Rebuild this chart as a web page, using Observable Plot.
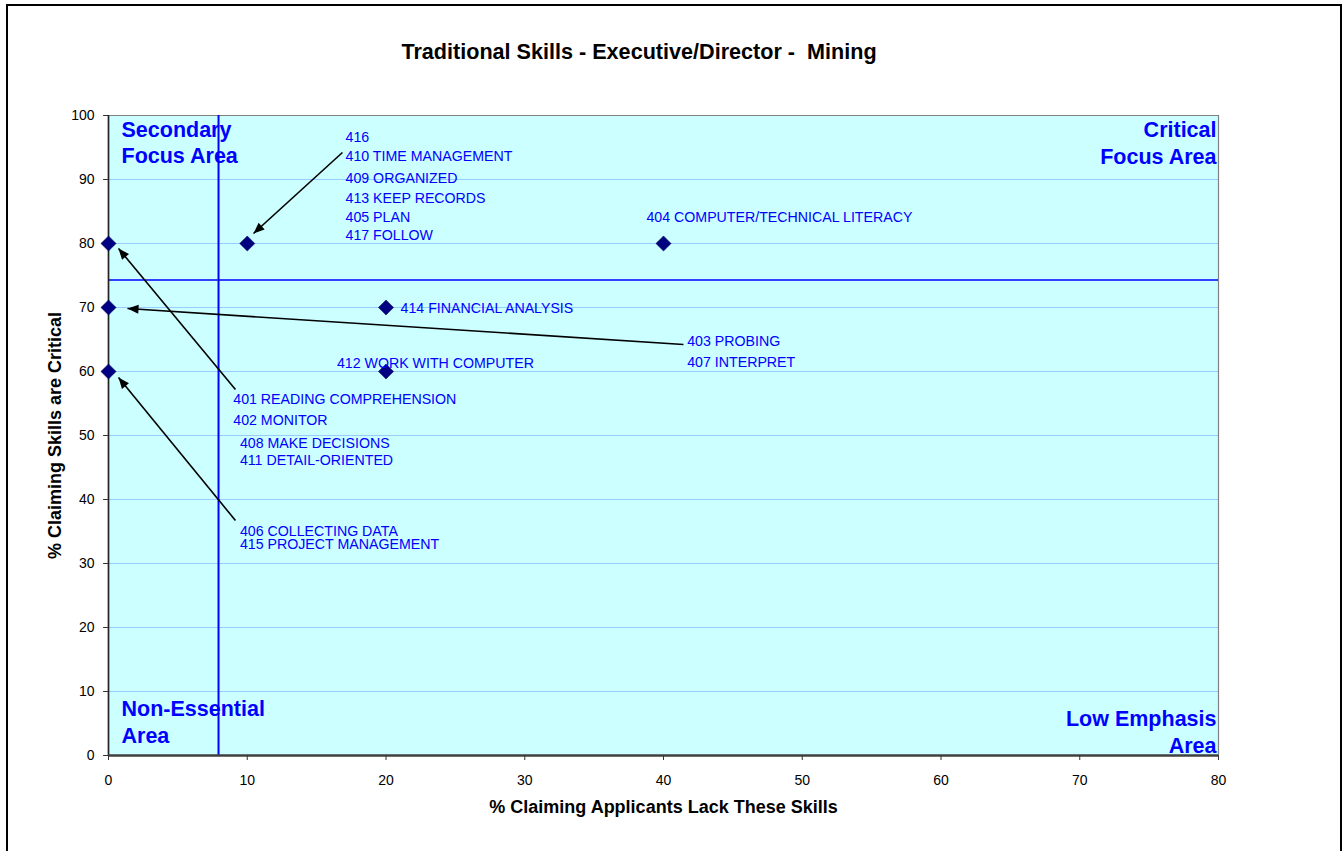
<!DOCTYPE html>
<html><head><meta charset="utf-8">
<script src="https://cdn.jsdelivr.net/npm/d3@7"></script>
<script src="https://cdn.jsdelivr.net/npm/@observablehq/plot@0.6"></script>
<style>
body{margin:0;background:#fff;font-family:Arial,"Liberation Sans",sans-serif;}
#wrap{position:relative;width:1343px;height:851px;overflow:hidden;}
#border{position:absolute;left:6px;top:4px;width:1336px;height:900px;border:2px solid #000;pointer-events:none;box-sizing:border-box;}
</style></head><body>
<div id="wrap"><div id="chart"></div><div id="border"></div></div>
<script>
// ---- data ----
const title = "Traditional Skills - Executive/Director -  Mining";
const xTitle = "% Claiming Applicants Lack These Skills";
const yTitle = "% Claiming Skills are Critical";
const xTicks = [0, 10, 20, 30, 40, 50, 60, 70, 80];
const yTicks = [0, 10, 20, 30, 40, 50, 60, 70, 80, 90, 100];
const gridValues = [10, 20, 30, 40, 50, 60, 70, 80, 90];

const pointX = [10, 40, 20, 20, 0, 0, 0];
const pointY = [80, 80, 70, 60, 80, 70, 60];

const labelText = ["416", "410 TIME MANAGEMENT", "409 ORGANIZED", "413 KEEP RECORDS", "405 PLAN", "417 FOLLOW",
  "404 COMPUTER/TECHNICAL LITERACY", "414 FINANCIAL ANALYSIS", "412 WORK WITH COMPUTER",
  "401 READING COMPREHENSION", "402 MONITOR", "408 MAKE DECISIONS", "411 DETAIL-ORIENTED",
  "403 PROBING", "407 INTERPRET", "406 COLLECTING DATA", "415 PROJECT MANAGEMENT"];
const labelX = [17.08, 17.08, 17.08, 17.08, 17.08, 17.08, 38.77, 21.05, 16.46, 8.99, 8.99, 9.47, 9.47, 41.71, 41.71, 9.47, 9.47];
const labelY = [96.56, 93.59, 90.11, 86.98, 84.02, 81.25, 84.06, 69.8, 61.2, 55.58, 52.34, 48.8, 46.09, 64.69, 61.36, 35.0, 32.92];

// arrows: tail (x1,y1) -> head (x2,y2)
const arrowX1 = [16.86, 9.15, 41.44, 9.15];
const arrowY1 = [94.22, 57.19, 64.22, 36.72];
const arrowX2 = [10.45, 0.72, 1.37, 0.72];
const arrowY2 = [81.56, 79.22, 69.84, 59.06];

const lackThreshold = 7.93;
const criticalThreshold = 74.3;

const quadrantText = ["Secondary\nFocus Area", "Critical\nFocus Area", "Non-Essential\nArea", "Low Emphasis\nArea"];

// ---- build ----
const points = pointX.map((x, i) => ({x, y: pointY[i]}));
const labels = labelText.map((t, i) => ({t, x: labelX[i], y: labelY[i]}));
const arrows = arrowX1.map((x1, i) => ({x1, y1: arrowY1[i], x2: arrowX2[i], y2: arrowY2[i]}));

function filledArrow(color, context) {
  const m = d3.create("svg:marker")
    .attr("viewBox", "-12 -6 12 12")
    .attr("markerWidth", 12).attr("markerHeight", 12)
    .attr("markerUnits", "userSpaceOnUse")
    .attr("orient", "auto")
    .attr("refX", 0).attr("refY", 0)
    .attr("fill", "#000").attr("stroke", "none");
  m.append("path").attr("d", "M-11,-4.5L0,0L-11,4.5Z");
  return m.node();
}

const blue = "#0000FF";
const qFont = 21.5;
const chart = Plot.plot({
  width: 1343, height: 851,
  marginLeft: 108, marginRight: 125, marginTop: 115, marginBottom: 96,
  style: {fontFamily: "Arial, 'Liberation Sans', sans-serif", fontSize: "14px", color: "#000", background: "transparent"},
  x: {domain: [0, 80]},
  y: {domain: [0, 100]},
  marks: [
    Plot.frame({fill: "#CCFFFF", stroke: null}),
    Plot.gridY(gridValues, {stroke: "#99CCFF", strokeOpacity: 1}),
    Plot.ruleY([100], {stroke: "#808080", strokeWidth: 1.2}),
    Plot.ruleX([80], {stroke: "#808080", strokeWidth: 1.2}),
    Plot.ruleX([lackThreshold], {stroke: blue, strokeWidth: 2}),
    Plot.ruleY([criticalThreshold], {stroke: blue, strokeWidth: 1.6}),
    Plot.ruleX([0], {stroke: "#222", strokeWidth: 1.7}),
    Plot.ruleY([0], {stroke: "#404040", strokeWidth: 2.3}),
    Plot.axisX({ticks: xTicks, tickSize: 5, tickPadding: 15, label: null, fontSize: 14, stroke: "#333"}),
    Plot.axisY({ticks: yTicks, tickSize: 5, tickPadding: 9, label: null, fontSize: 14, stroke: "#333"}),
    Plot.link(arrows, {x1: "x1", y1: "y1", x2: "x2", y2: "y2", stroke: "#000", strokeWidth: 1.6, markerEnd: filledArrow}),
    Plot.dot(points, {x: "x", y: "y", symbol: "diamond2", r: 6.8, fill: "#000080", stroke: "#000050", strokeWidth: 0.5}),
    Plot.text(labels, {x: "x", y: "y", text: "t", textAnchor: "start", fill: blue, fontSize: 14.2}),
    Plot.text([quadrantText[0]], {frameAnchor: "top-left", textAnchor: "start", lineAnchor: "top", dx: 13, dy: 3, lineHeight: 1.21, fill: blue, fontSize: qFont, fontWeight: "bold"}),
    Plot.text([quadrantText[1]], {frameAnchor: "top-right", textAnchor: "end", lineAnchor: "top", dx: -2, dy: 3, lineHeight: 1.23, fill: blue, fontSize: qFont, fontWeight: "bold"}),
    Plot.text([quadrantText[2]], {frameAnchor: "bottom-left", textAnchor: "start", lineAnchor: "top", dx: 13, dy: -59.5, lineHeight: 1.29, fill: blue, fontSize: qFont, fontWeight: "bold"}),
    Plot.text([quadrantText[3]], {frameAnchor: "bottom-right", textAnchor: "end", lineAnchor: "top", dx: -2, dy: -48.5, lineHeight: 1.24, fill: blue, fontSize: qFont, fontWeight: "bold"}),
    Plot.text([title], {frameAnchor: "top", dx: -24.5, dy: -72, fontSize: 21.6, fontWeight: "bold", fill: "#000"}),
    Plot.text([xTitle], {frameAnchor: "bottom", dy: 57, fontSize: 18, fontWeight: "bold", fill: "#000"}),
    Plot.text([yTitle], {frameAnchor: "left", textAnchor: "middle", dx: -53, rotate: -90, fontSize: 18, fontWeight: "bold", fill: "#000"})
  ]
});
chart.style.whiteSpace = "pre";
document.getElementById("chart").appendChild(chart);
</script></body></html>
